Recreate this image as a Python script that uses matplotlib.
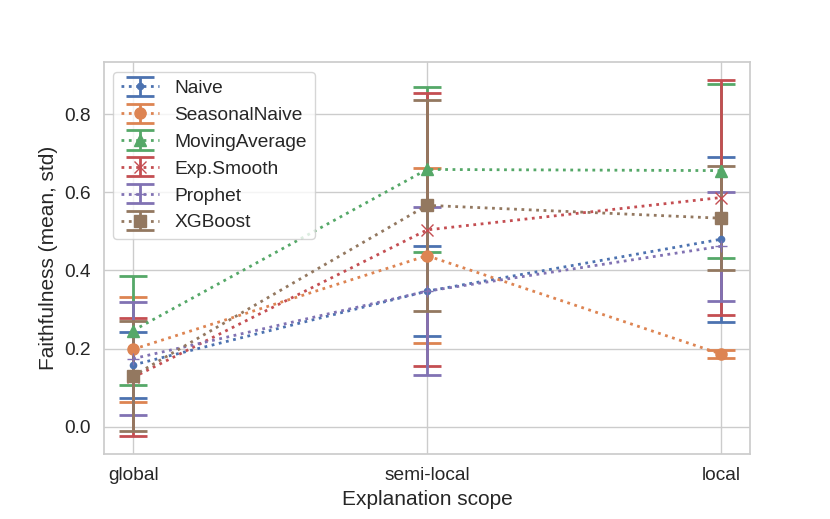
import matplotlib
matplotlib.use("Agg")
import matplotlib.pyplot as plt
import seaborn as sns

sns.set_theme(style="whitegrid", font_scale=1.25)
plt.rcParams['font.family'] = ['Liberation Sans', 'DejaVu Sans']

scopes = ["global", "semi-local", "local"]
models = ["Naive", "SeasonalNaive", "MovingAverage", "Exp.Smooth", "Prophet", "XGBoost"]
markers = [".", "o", "^", "x", "+", "s"]

naive_mean = [0.158, 0.347, 0.480]
naive_std = [0.084, 0.115, 0.211]
seasonal_mean = [0.198, 0.438, 0.186]
seasonal_std = [0.134, 0.224, 0.011]
moving_mean = [0.246, 0.659, 0.656]
moving_std = [0.139, 0.211, 0.223]
expsmooth_mean = [0.126, 0.504, 0.587]
expsmooth_std = [0.151, 0.350, 0.301]
prophet_mean = [0.174, 0.347, 0.462]
prophet_std = [0.145, 0.216, 0.140]
xgb_mean = [0.130, 0.567, 0.534]
xgb_std = [0.141, 0.271, 0.133]

means = [naive_mean, seasonal_mean, moving_mean, expsmooth_mean, prophet_mean, xgb_mean]
stds = [naive_std, seasonal_std, moving_std, expsmooth_std, prophet_std, xgb_std]

fig, ax = plt.subplots(figsize=(8.3, 5.19), dpi=100)
fig.subplots_adjust(left=0.125, right=0.904, top=0.88, bottom=0.125)
x = list(range(len(scopes)))
for name, m, s, mk in zip(models, means, stds, markers):
    ax.errorbar(x, m, yerr=s, fmt=mk, linestyle=":", linewidth=2,
                elinewidth=2, capsize=10, capthick=2,
                markersize=8 if mk != "." else 9, label=name)

ax.set_xticks(x)
ax.set_xticklabels(scopes)
ax.set_xlabel("Explanation scope")
ax.set_ylabel("Faithfulness (mean, std)")
ax.legend(loc="upper left")
fig.savefig("out.png")
